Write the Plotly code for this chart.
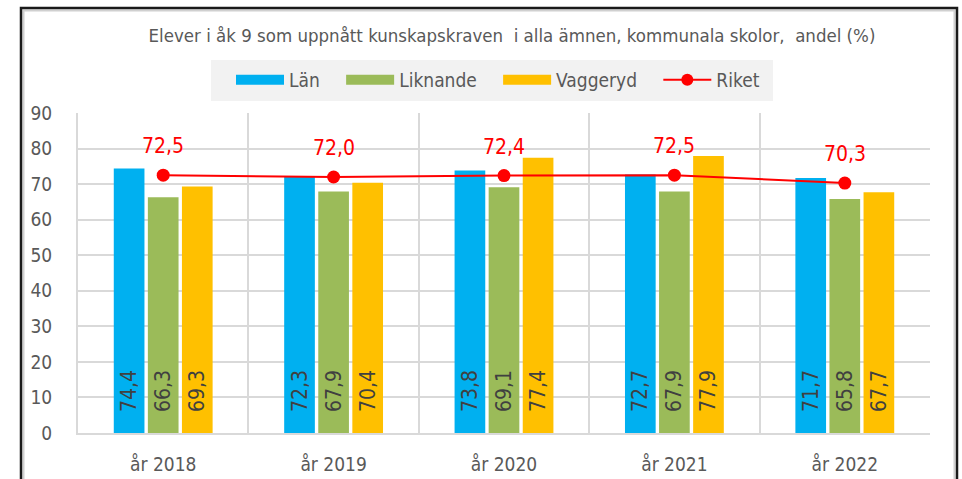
import plotly.graph_objects as go

years = ["år 2018", "år 2019", "år 2020", "år 2021", "år 2022"]
lan = [74.4, 72.3, 73.8, 72.7, 71.7]
liknande = [66.3, 67.9, 69.1, 67.9, 65.8]
vaggeryd = [69.3, 70.4, 77.4, 77.9, 67.7]
riket = [72.5, 72.0, 72.4, 72.5, 70.3]

title_text = "Elever i åk 9 som uppnått kunskapskraven  i alla ämnen, kommunala skolor,  andel (%)"
FONT = "DejaVu Sans Condensed, Liberation Sans Narrow, Roboto Condensed, sans-serif"
GREY = "#595959"
PAD = "&nbsp;" * 3

def fmt(v):
    return f"{v:.1f}".replace(".", ",")

series = [("Län", lan, "#00b0f0"), ("Liknande", liknande, "#9bbb59"), ("Vaggeryd", vaggeryd, "#ffc000")]

fig = go.Figure()
for name, vals, col in series:
    fig.add_trace(go.Bar(
        x=years, y=vals, name=name, marker=dict(color=col, line=dict(width=0)),
        text=[PAD + fmt(v) for v in vals], textposition="inside", insidetextanchor="start",
        textangle=-90, textfont=dict(color="#404040", size=21, family=FONT),
        showlegend=False, hoverinfo="skip",
    ))

fig.add_trace(go.Scatter(
    x=years, y=riket, name="Riket", mode="lines+markers",
    line=dict(color="#ff0000", width=2), marker=dict(color="#ff0000", size=13),
    showlegend=False, hoverinfo="skip",
))

# legend entries
for name, vals, col in series:
    fig.add_trace(go.Scatter(x=[None], y=[None], mode="lines", name=name + PAD,
                             line=dict(color=col, width=10)))
fig.add_trace(go.Scatter(x=[None], y=[None], mode="lines+markers", name="Riket",
                         line=dict(color="#ff0000", width=2), marker=dict(color="#ff0000", size=12)))

for x, v in zip(years, riket):
    fig.add_annotation(x=x, y=v, text=fmt(v), showarrow=False, yshift=29,
                       font=dict(color="#ff0000", size=21, family=FONT))

# page-pixel helpers (plot area spans x 78..930, y 113..433)
def px_x(p):
    return (p - 78) / 852

def px_y(p):
    return (433 - p) / 320

W, H = 962, 479

fig.add_shape(type="rect", xref="paper", yref="paper",
              x0=px_x(211), x1=px_x(773), y0=px_y(101), y1=px_y(60),
              fillcolor="#f2f2f2", line=dict(width=0), layer="below")
fig.add_shape(type="rect", xref="paper", yref="paper",
              x0=px_x(23.5), x1=px_x(954.5), y0=px_y(520), y1=px_y(10.5),
              line=dict(color="#d0d0d0", width=2), layer="above")
fig.add_shape(type="rect", xref="paper", yref="paper",
              x0=px_x(21), x1=px_x(957), y0=px_y(520), y1=px_y(8),
              line=dict(color="#1a1a1a", width=2.5), layer="above")

fig.update_layout(
    width=W, height=H,
    margin=dict(l=78, r=32, t=113, b=46, autoexpand=False),
    paper_bgcolor="white", plot_bgcolor="white",
    font=dict(family=FONT, color=GREY, size=19),
    barmode="group", bargap=0.4, bargroupgap=0.1,
    uniformtext=dict(minsize=21, mode="show"),
    title=dict(text=title_text, x=512 / W, xanchor="center",
               y=1 - 36 / H, yanchor="middle",
               font=dict(size=18.5, color=GREY, family=FONT)),
    legend=dict(orientation="h", x=px_x(231), xanchor="left", y=px_y(80), yanchor="middle",
                bgcolor="rgba(0,0,0,0)", font=dict(size=19, color=GREY, family=FONT),
                traceorder="normal", itemwidth=48),
    showlegend=True,
)
fig.update_xaxes(type="category", tickson="boundaries", showgrid=True, gridcolor="#d9d9d9", gridwidth=2,
                 showline=True, linecolor="#d9d9d9", linewidth=2, ticks="", ticklabelstandoff=13,
                 automargin=False, tickfont=dict(size=19, color=GREY))
fig.update_yaxes(range=[0, 90], dtick=10, showgrid=True, gridcolor="#d9d9d9", gridwidth=2,
                 showline=True, linecolor="#d9d9d9", linewidth=2, zeroline=False, ticks="",
                 ticklabelstandoff=20, automargin=False, tickfont=dict(size=19, color=GREY))

fig.write_html(
    "out.html",
    config={"displayModeBar": False},
    post_script="document.body.style.margin='0';document.body.style.overflow='hidden';"
                "document.documentElement.style.overflow='hidden';",
)
